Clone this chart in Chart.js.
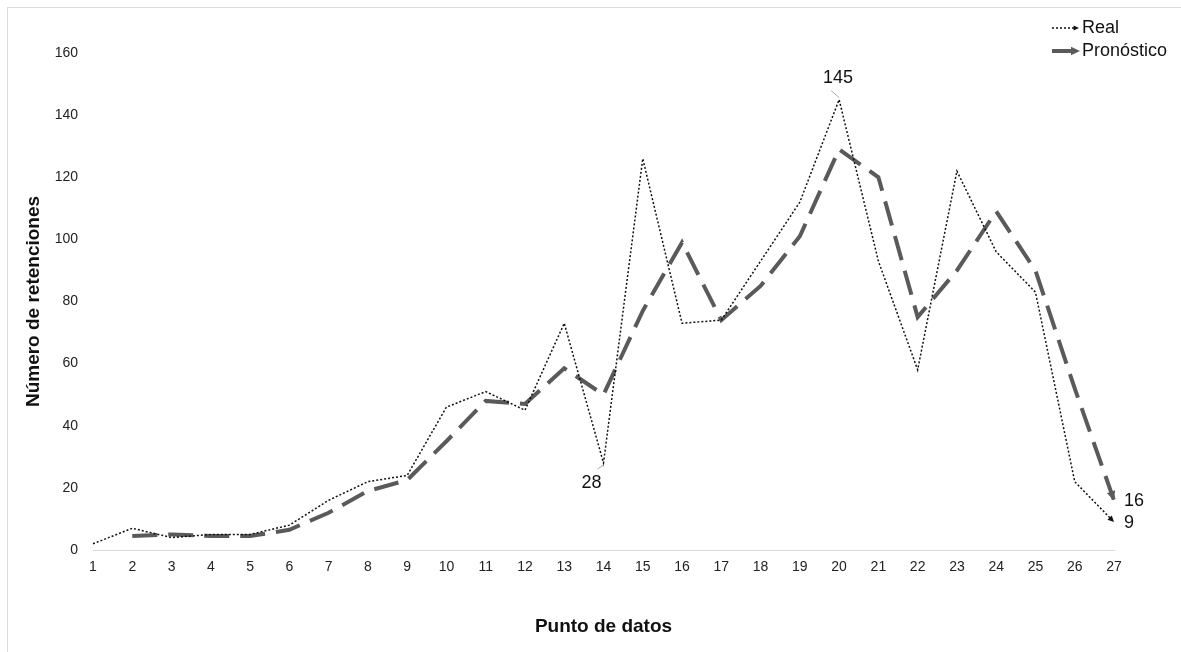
<!DOCTYPE html>
<html>
<head>
<meta charset="utf-8">
<script src="https://cdn.jsdelivr.net/npm/chart.js@4/dist/chart.umd.min.js"></script>
<style>
  html, body { margin: 0; padding: 0; background: #fff; }
  #wrap { position: relative; width: 1181px; height: 652px; }
  #marco { position: absolute; left: 7px; top: 7px; width: 1174px; height: 645px; border-left: 1px solid #dcdcdc; border-top: 1px solid #dcdcdc; box-sizing: border-box; pointer-events: none; }
</style>
</head>
<body>
<div id="wrap">
  <canvas id="grafRetenciones" width="1181" height="652"></canvas>
  <div id="marco"></div>
</div>
<script>
// Datos
const puntos = ['1','2','3','4','5','6','7','8','9','10','11','12','13','14','15','16','17','18','19','20','21','22','23','24','25','26','27'];
const real = [2, 7, 4, 5, 5, 8, 16, 22, 24, 46, 51, 45, 73, 28, 126, 73, 74, 93, 112, 145, 93, 58, 122, 96, 83, 22, 9];
const pronostico = [null, 4.5, 5, 4.5, 4.5, 6.5, 12, 19, 22.5, 35, 48, 47, 58.5, 50, 77, 99, 74, 85, 101, 129, 120, 75, 90, 109, 90, 52, 16];
const ticksY = [0, 20, 40, 60, 80, 100, 120, 140, 160];

const fuente = '"Liberation Sans", Arial, sans-serif';

// Flecha al final de una linea
function flecha(ctx, x0, y0, x1, y1, color, tam) {
        const ang = Math.atan2(y1 - y0, x1 - x0);
        ctx.save();
        ctx.fillStyle = color;
        ctx.beginPath();
        ctx.moveTo(x1, y1);
        ctx.lineTo(x1 - tam * Math.cos(ang - 0.45), y1 - tam * Math.sin(ang - 0.45));
        ctx.lineTo(x1 - tam * Math.cos(ang + 0.45), y1 - tam * Math.sin(ang + 0.45));
        ctx.closePath();
        ctx.fill();
        ctx.restore();
}

// Etiquetas, flechas y leyenda
const extras = {
        id: 'extras',
        afterDatasetsDraw(chart) {
                const ctx = chart.ctx;
                const x = chart.scales.x;
                const y = chart.scales.y;
                const n = puntos.length - 1;

                // flechas al final de cada serie
                flecha(ctx, x.getPixelForValue(n - 1), y.getPixelForValue(real[n - 1]), x.getPixelForValue(n), y.getPixelForValue(real[n]), '#111', 7);
                flecha(ctx, x.getPixelForValue(n - 1), y.getPixelForValue(pronostico[n - 1]), x.getPixelForValue(n), y.getPixelForValue(pronostico[n]), '#5a5a5a', 10);

                ctx.save();
                ctx.font = '18px ' + fuente;
                ctx.fillStyle = '#111';
                ctx.textBaseline = 'middle';

                // 145 sobre el punto 20
                let px = x.getPixelForValue(19), py = y.getPixelForValue(real[19]);
                ctx.strokeStyle = '#aaa';
                ctx.lineWidth = 1;
                ctx.beginPath(); ctx.moveTo(px, py - 2); ctx.lineTo(px - 8, py - 9); ctx.stroke();
                ctx.textAlign = 'center';
                ctx.fillText(String(real[19]), px - 1, py - 22);

                // 28 bajo el punto 14
                px = x.getPixelForValue(13); py = y.getPixelForValue(real[13]);
                ctx.beginPath(); ctx.moveTo(px, py + 2); ctx.lineTo(px - 6, py + 6); ctx.stroke();
                ctx.fillText(String(real[13]), px - 12, py + 20);

                // 16 y 9 al final
                px = x.getPixelForValue(n);
                ctx.textAlign = 'left';
                ctx.fillText(String(pronostico[n]), px + 10, y.getPixelForValue(pronostico[n]) + 1);
                ctx.fillText(String(real[n]), px + 10, y.getPixelForValue(real[n]) + 1);

                // leyenda
                ctx.font = '18px ' + fuente;
                ctx.fillText('Real', 1082, 28);
                ctx.fillText('Pronóstico', 1082, 51);
                ctx.strokeStyle = '#111';
                ctx.lineWidth = 1.5;
                ctx.setLineDash([2, 2]);
                ctx.beginPath(); ctx.moveTo(1052, 28); ctx.lineTo(1074, 28); ctx.stroke();
                flecha(ctx, 1068, 28, 1079, 28, '#111', 6);
                ctx.setLineDash([]);
                ctx.strokeStyle = '#5a5a5a';
                ctx.lineWidth = 4;
                ctx.beginPath(); ctx.moveTo(1052, 51); ctx.lineTo(1072, 51); ctx.stroke();
                flecha(ctx, 1066, 51, 1080, 51, '#5a5a5a', 10);
                ctx.restore();
        }
};

const ctx = document.querySelector('#grafRetenciones');

const myChart = new Chart(ctx, {
        type: 'line',
        data: {
                labels: puntos,
                datasets: [{
                        label: 'Real',
                        data: real,
                        borderColor: '#111',
                        borderWidth: 1.5,
                        borderDash: [2, 2],
                        pointRadius: 0,
                        tension: 0
                }, {
                        label: 'Pronóstico',
                        data: pronostico,
                        borderColor: '#5a5a5a',
                        borderWidth: 4,
                        borderDash: [25, 11],
                        pointRadius: 0,
                        tension: 0
                }]
        },
        options: {
                responsive: false,
                animation: false,
                layout: { padding: { left: 8, top: 53, right: 67, bottom: 0 } },
                plugins: { legend: { display: false }, tooltip: { enabled: false } },
                scales: {
                        x: {
                                offset: false,
                                grid: { display: false, drawTicks: false },
                                border: { display: true, color: '#d9d9d9', width: 1 },
                                ticks: { color: '#222', font: { family: fuente, size: 14 }, padding: 9, maxRotation: 0, autoSkip: false },
                                title: { display: true, text: 'Punto de datos', color: '#111', font: { family: fuente, size: 19, weight: 'bold' }, padding: { top: 10, bottom: 14 } },
                                afterFit(scale) { scale.height = 102; }
                        },
                        y: {
                                min: 0,
                                max: 160,
                                grid: { display: false, drawTicks: false },
                                border: { display: false },
                                afterBuildTicks(scale) { scale.ticks = ticksY.map(v => ({ value: v })); },
                                ticks: { color: '#222', font: { family: fuente, size: 14 }, padding: 15 },
                                title: { display: true, text: 'Número de retenciones', color: '#111', font: { family: fuente, size: 19, weight: 'bold' }, padding: { top: 14, bottom: 0 } },
                                afterFit(scale) { scale.width = 85; }
                        }
                }
        },
        plugins: [extras]
});
</script>
</body>
</html>
